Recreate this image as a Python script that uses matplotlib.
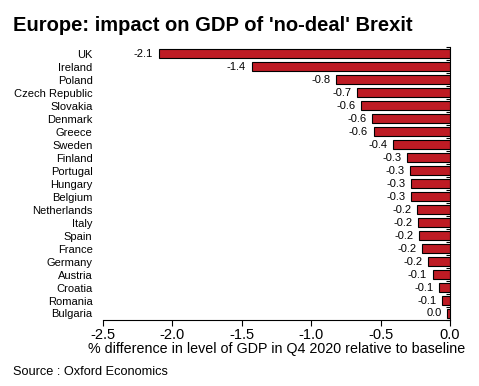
import matplotlib
matplotlib.use("Agg")
import matplotlib.pyplot as plt
import numpy as np

plt.rcParams['font.family'] = ['Liberation Sans', 'DejaVu Sans']

countries = ["UK", "Ireland", "Poland", "Czech Republic", "Slovakia", "Denmark", "Greece",
             "Sweden", "Finland", "Portugal", "Hungary", "Belgium", "Netherlands", "Italy",
             "Spain", "France", "Germany", "Austria", "Croatia", "Romania", "Bulgaria"]
values = [-2.10, -1.43, -0.82, -0.67, -0.64, -0.56, -0.55, -0.41, -0.31, -0.29, -0.28,
          -0.28, -0.24, -0.23, -0.22, -0.20, -0.16, -0.125, -0.08, -0.06, -0.02]
xticks = [-2.5, -2.0, -1.5, -1.0, -0.5, 0.0]

fig = plt.figure(figsize=(4.79, 3.86), dpi=100)
ax = fig.add_axes([0.215, 0.171, 0.7245, 0.707])

y = np.arange(len(countries))
ax.barh(y, values, height=0.66, color='#BE1B24', edgecolor='black', linewidth=0.8)

for yi, v in zip(y, values):
    ax.annotate(f"{v:.1f}".replace("-0.0", "0.0"), xy=(v, yi), xytext=(-4, 0),
                textcoords='offset points', ha='right', va='center', fontsize=8)

ax.set_xlim(-2.5, 0.0)
ax.set_ylim(len(countries) - 0.5, -0.5)
ax.set_yticks(y)
ax.set_yticklabels(countries, fontsize=8)
ax.set_yticks(np.arange(len(countries) + 1) - 0.5, minor=True)
ax.tick_params(axis='y', which='major', length=0, pad=7.5)
ax.tick_params(axis='y', which='minor', left=False, right=True, direction='in', length=3, width=0.8)

ax.set_xticks(xticks)
ax.set_xticklabels([f"{t:.1f}" for t in xticks], fontsize=10.5)
ax.tick_params(axis='x', direction='out', length=4, width=0.8, pad=2)
ax.set_xlabel("% difference in level of GDP in Q4 2020 relative to baseline", fontsize=10.3, labelpad=0)

for s in ['left', 'top']:
    ax.spines[s].set_visible(False)
ax.spines['right'].set_linewidth(0.8)
ax.spines['bottom'].set_linewidth(0.8)

fig.text(0.028, 0.935, "Europe: impact on GDP of 'no-deal' Brexit", fontsize=14.5,
         fontweight='bold', ha='left', va='center')
fig.text(0.028, 0.037, "Source : Oxford Economics", fontsize=9.2, ha='left', va='center')

fig.savefig("out.png", dpi=100)
